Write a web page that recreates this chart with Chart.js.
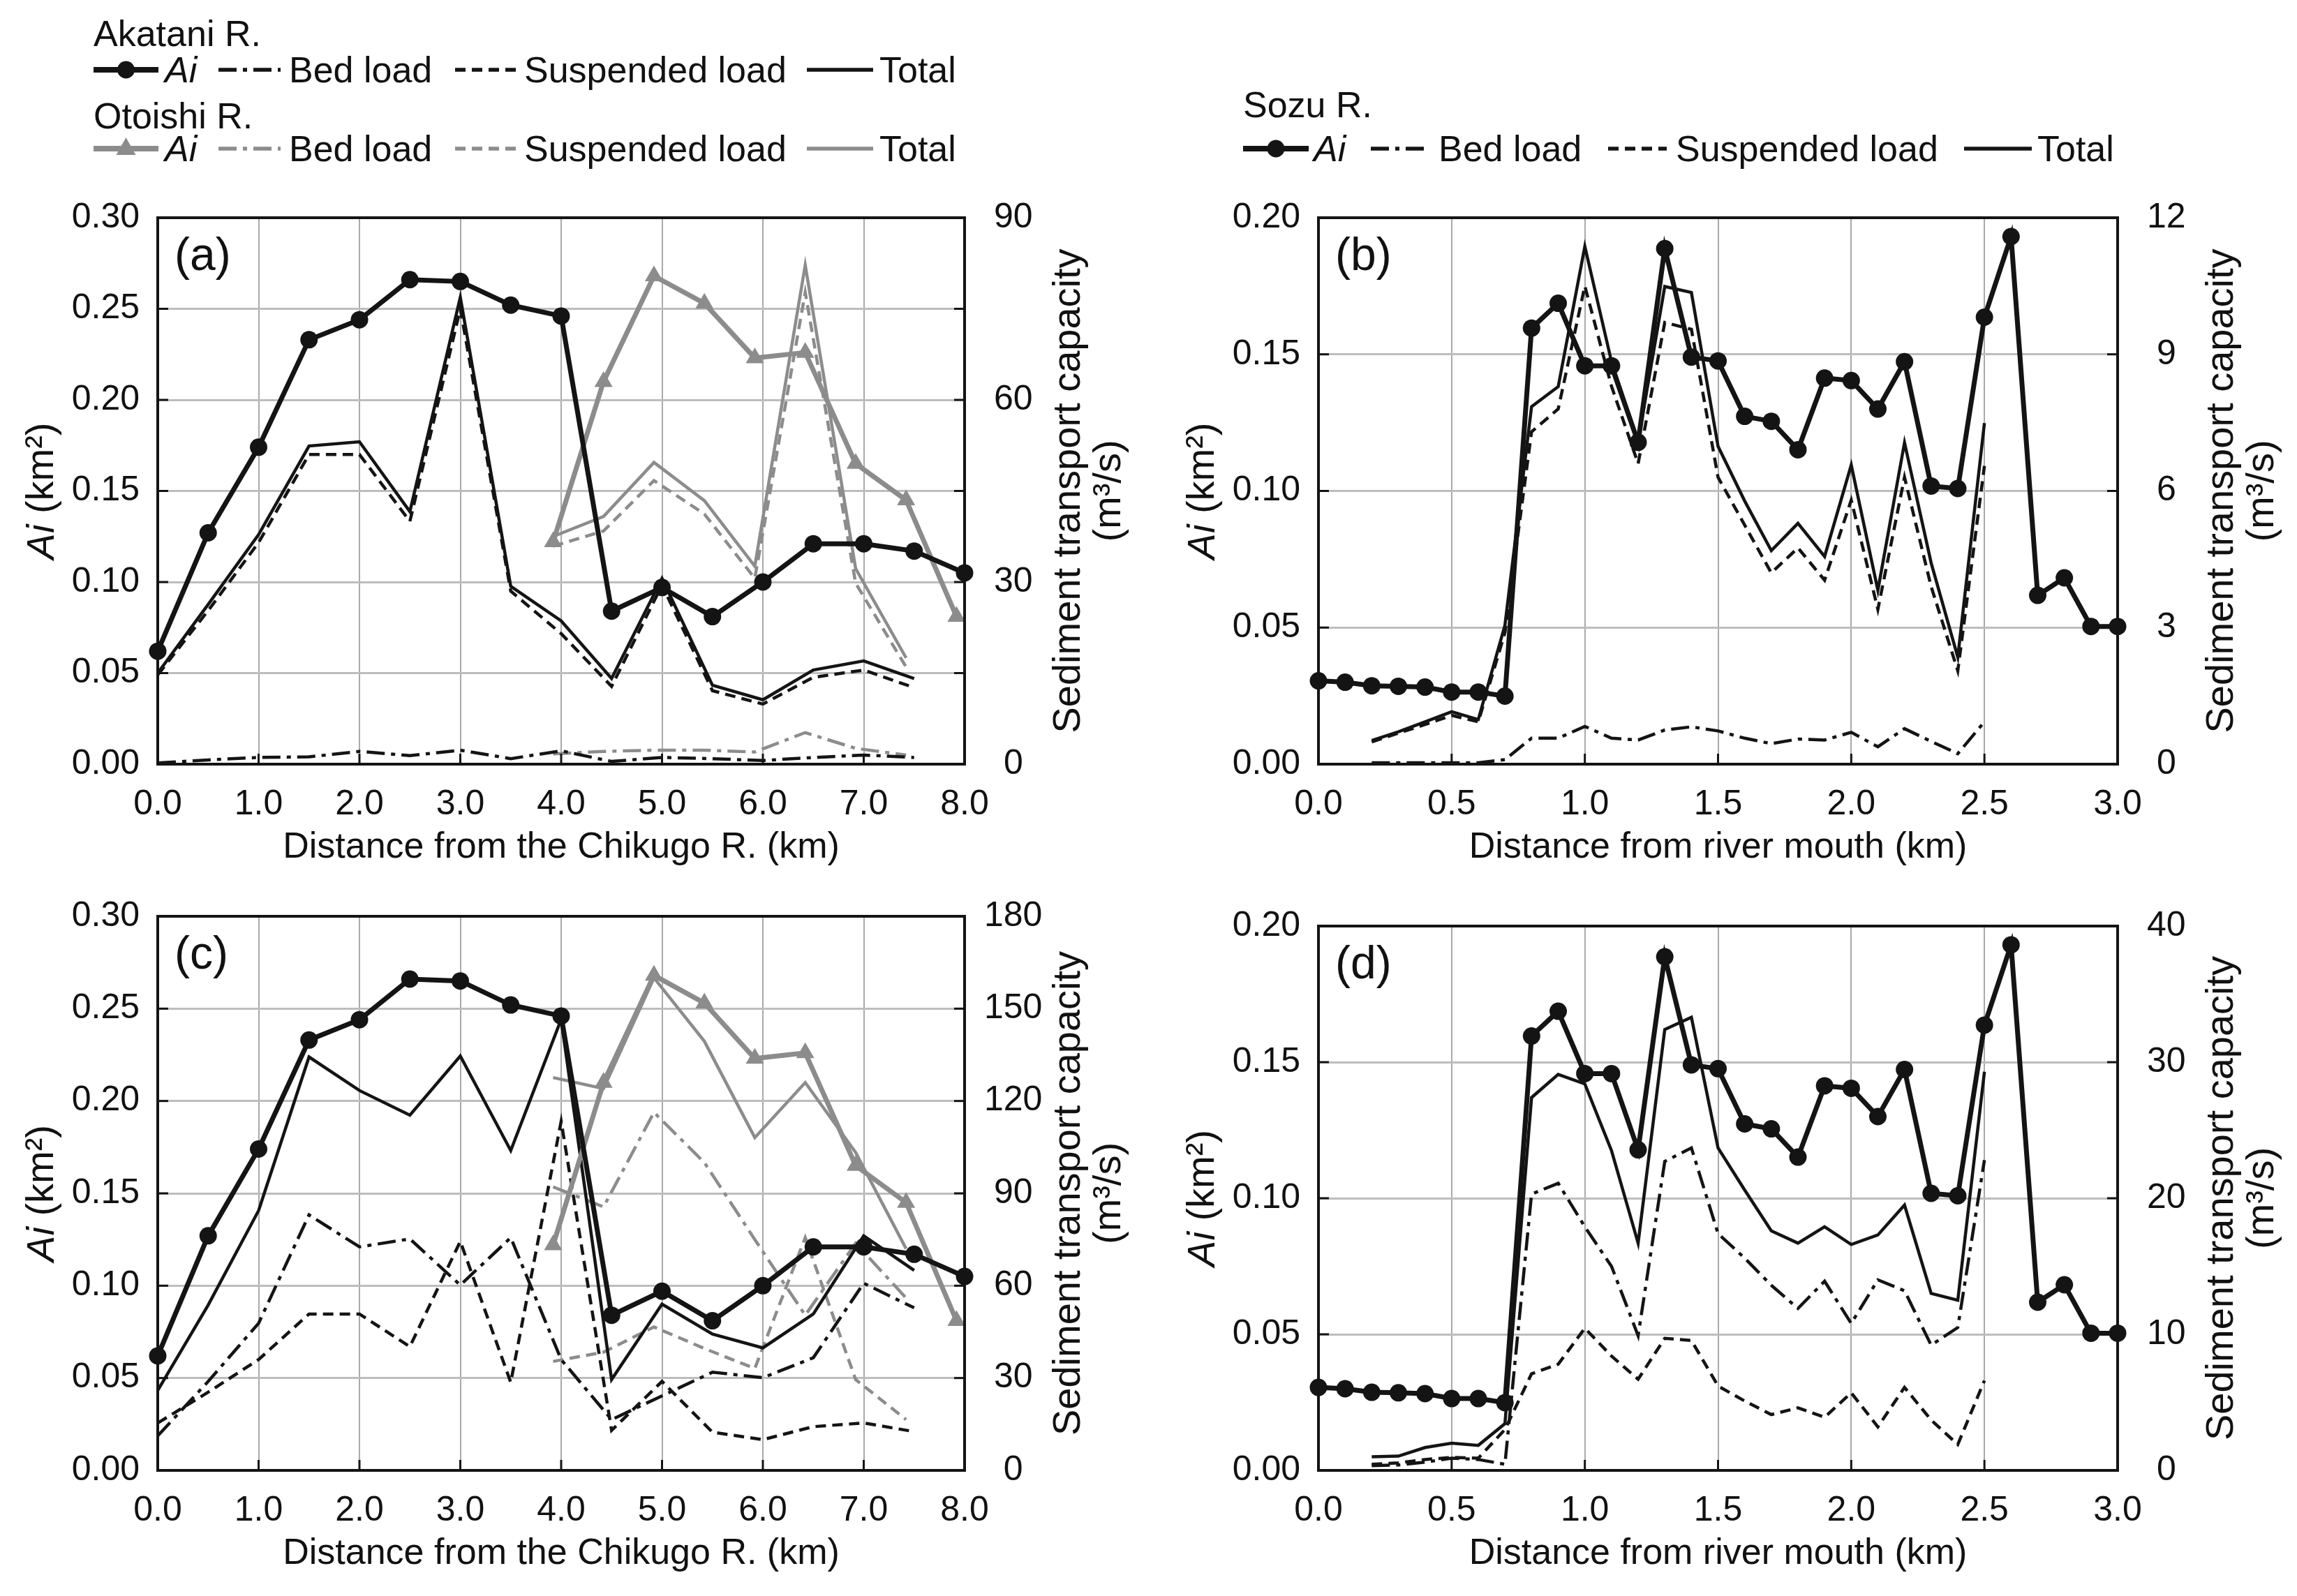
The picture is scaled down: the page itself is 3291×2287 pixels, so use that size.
<!DOCTYPE html>
<html>
<head>
<meta charset="utf-8">
<script src="https://cdn.jsdelivr.net/npm/chart.js@4.4.1/dist/chart.umd.min.js"></script>
<style>
  html, body { margin: 0; padding: 0; background: #fff; }
  #page { position: relative; width: 3291px; height: 2287px; overflow: hidden;
          font-family: 'Liberation Sans', Arial, sans-serif; color: #111; }
  .panel { position: absolute; }
  .lg { position: absolute; font-size: 52px; line-height: 60px; height: 60px; white-space: nowrap; }
  .lg i { font-style: italic; }
  svg.sw { position: absolute; overflow: visible; }
</style>
</head>
<body>
<div id="page">
  <div class="panel" style="left:0px;top:240px;"><canvas id="chart-a" width="1700" height="1020"></canvas></div>
  <div class="panel" style="left:1640px;top:240px;"><canvas id="chart-b" width="1651" height="1020"></canvas></div>
  <div class="panel" style="left:0px;top:1255px;"><canvas id="chart-c" width="1700" height="1032"></canvas></div>
  <div class="panel" style="left:1640px;top:1255px;"><canvas id="chart-d" width="1651" height="1032"></canvas></div>
</div>
<script>
// ---- data ----
const akataniKm = [0.0, 0.5, 1.0, 1.5, 2.0, 2.5, 3.0, 3.5, 4.0, 4.5, 5.0, 5.5, 6.0, 6.5, 7.0, 7.5, 8.0];
const akataniAi = [0.062, 0.127, 0.174, 0.233, 0.244, 0.266, 0.265, 0.252, 0.246, 0.084, 0.097, 0.081, 0.100, 0.121, 0.121, 0.117, 0.105];
const akataniLoadKm = [0.0, 0.5, 1.0, 1.5, 2.0, 2.5, 3.0, 3.5, 4.0, 4.5, 5.0, 5.5, 6.0, 6.5, 7.0, 7.5];

const otoishiKm = [3.92, 4.42, 4.92, 5.42, 5.92, 6.42, 6.92, 7.42, 7.92];
const otoishiAi = [0.122, 0.210, 0.268, 0.253, 0.223, 0.226, 0.165, 0.145, 0.081];
const otoishiLoadKm = [3.92, 4.42, 4.92, 5.42, 5.92, 6.42, 6.92, 7.42];

// panel (a), m3/s
const akataniBedA   = [0.2, 0.7, 1.1, 1.2, 2.1, 1.4, 2.3, 0.9, 2.2, 0.45, 1.1, 0.9, 0.6, 1.1, 1.5, 1.1];
const akataniSuspA  = [14.7, 25.3, 36.5, 51.0, 51.0, 40.0, 75.0, 28.5, 21.5, 12.8, 29.5, 12.1, 9.9, 14.3, 15.5, 12.6];
const akataniTotalA = [15.0, 26.3, 37.8, 52.4, 53.1, 41.6, 76.9, 29.3, 23.6, 14.1, 30.6, 13.0, 10.6, 15.5, 17.0, 14.1];
const otoishiBedA   = [1.7, 2.1, 2.3, 2.3, 2.0, 5.2, 2.6, 1.5];
const otoishiSuspA  = [35.9, 38.4, 46.7, 41.2, 30.6, 77.7, 29.8, 16.0];
const otoishiTotalA = [37.5, 40.8, 49.7, 43.4, 32.6, 82.2, 32.2, 17.5];

// panel (c), m3/s
const akataniBedC   = [11.2, 28.9, 47.8, 83.0, 72.6, 75.2, 60.2, 75.6, 36.0, 16.5, 24.2, 31.9, 30.1, 36.6, 60.8, 52.8];
const akataniSuspC  = [15.4, 25.4, 36.0, 50.8, 50.8, 40.2, 74.4, 28.6, 113.4, 13.0, 28.9, 12.4, 10.0, 14.2, 15.4, 12.6];
const akataniTotalC = [26.0, 53.7, 84.4, 134.3, 123.4, 115.4, 134.6, 103.9, 146.5, 29.5, 54.0, 44.3, 39.8, 50.8, 76.2, 65.0];
const otoishiBedC   = [92.1, 85.6, 116.3, 100.0, 75.0, 50.4, 73.8, 56.0];
const otoishiSuspC  = [35.4, 38.4, 46.6, 39.6, 33.1, 75.6, 29.5, 16.5];
const otoishiTotalC = [127.6, 124.0, 160.0, 139.4, 108.1, 126.0, 103.3, 72.0];

const sozuKm = [0.0, 0.1, 0.2, 0.3, 0.4, 0.5, 0.6, 0.7, 0.8, 0.9, 1.0, 1.1, 1.2, 1.3, 1.4, 1.5,
                1.6, 1.7, 1.8, 1.9, 2.0, 2.1, 2.2, 2.3, 2.4, 2.5, 2.6, 2.7, 2.8, 2.9, 3.0];
const sozuAi = [0.0305, 0.0300, 0.0287, 0.0285, 0.0282, 0.0264, 0.0264, 0.0249, 0.1596, 0.1687, 0.1458,
                0.1458, 0.1178, 0.1887, 0.1490, 0.1476, 0.1273, 0.1255, 0.1151, 0.1413, 0.1404, 0.1300,
                0.1473, 0.1018, 0.1009, 0.1636, 0.1931, 0.0618, 0.0682, 0.0504, 0.0504];
const sozuLoadKm = [0.2, 0.3, 0.4, 0.5, 0.6, 0.7, 0.8, 0.9, 1.0, 1.1, 1.2, 1.3, 1.4, 1.5,
                    1.6, 1.7, 1.8, 1.9, 2.0, 2.1, 2.2, 2.3, 2.4, 2.5];

// panel (b), m3/s
const sozuBedB   = [0.03, 0.03, 0.03, 0.03, 0.03, 0.10, 0.57, 0.57, 0.83, 0.57, 0.53, 0.75, 0.82, 0.73,
                    0.57, 0.45, 0.55, 0.53, 0.70, 0.38, 0.78, 0.50, 0.23, 0.93];
const sozuSuspB  = [0.49, 0.68, 0.87, 1.07, 0.93, 2.89, 7.30, 7.80, 10.50, 8.30, 6.60, 9.70, 9.55, 6.30,
                    5.25, 4.20, 4.75, 4.04, 5.80, 3.40, 6.30, 3.90, 2.05, 6.55];
const sozuTotalB = [0.52, 0.71, 0.93, 1.15, 0.98, 3.05, 7.85, 8.29, 11.37, 8.84, 7.09, 10.49, 10.36, 6.98,
                    5.78, 4.69, 5.29, 4.56, 6.57, 3.82, 7.06, 4.42, 2.35, 7.49];

// panel (d), m3/s
const sozuBedD   = [0.35, 0.40, 0.60, 0.90, 0.80, 0.45, 20.3, 21.1, 17.9, 15.0, 9.9, 22.7, 23.7, 17.4,
                    15.6, 13.6, 11.9, 13.9, 10.8, 14.0, 13.2, 9.2, 10.5, 22.8];
const sozuSuspD  = [0.45, 0.55, 0.80, 0.95, 0.90, 3.0, 7.1, 7.8, 10.45, 8.4, 6.7, 9.7, 9.55, 6.2,
                    5.1, 4.1, 4.6, 3.9, 5.7, 3.2, 6.1, 3.7, 1.9, 6.6];
const sozuTotalD = [1.0, 1.05, 1.68, 2.0, 1.84, 3.43, 27.4, 29.1, 28.4, 23.5, 16.7, 32.4, 33.3, 23.7,
                    20.6, 17.6, 16.7, 17.9, 16.6, 17.3, 19.5, 13.0, 12.5, 29.3];

// ---- styles ----
const FONT = "'Liberation Sans', Arial, sans-serif";
const BLACK = '#141414';
const GRAY = '#8c8c8c';
const DASH = [15, 9];
const DASHDOT = [26, 9, 6, 9];

const styles = {
  aiBlack:  { borderColor: BLACK, backgroundColor: BLACK, borderWidth: 7, pointRadius: 12.5, pointStyle: 'circle' },
  aiGray:   { borderColor: GRAY, backgroundColor: GRAY, borderWidth: 7, pointRadius: 15, pointStyle: 'triangle' },
  totBlack: { borderColor: BLACK, borderWidth: 4.5, pointRadius: 0 },
  susBlack: { borderColor: BLACK, borderWidth: 4.5, pointRadius: 0, borderDash: DASH },
  bedBlack: { borderColor: BLACK, borderWidth: 4.5, pointRadius: 0, borderDash: DASHDOT },
  totGray:  { borderColor: GRAY, borderWidth: 4.5, pointRadius: 0 },
  susGray:  { borderColor: GRAY, borderWidth: 4.5, pointRadius: 0, borderDash: DASH },
  bedGray:  { borderColor: GRAY, borderWidth: 4.5, pointRadius: 0, borderDash: DASHDOT }
};

function series(xs, ys, axis, style) {
  return {
    data: xs.map((x, i) => ({ x: x, y: ys[i] })),
    yAxisID: axis,
    fill: false,
    tension: 0,
    clip: false,
    pointBorderWidth: 0,
    pointHoverRadius: 0,
    ...style
  };
}

// Frame, inward ticks, panel letter and axis titles
const decorPlugin = {
  id: 'decor',
  afterDraw(chart, args, opts) {
    const { ctx, chartArea: a, scales } = chart;
    const seg = (x1, y1, x2, y2) => { ctx.beginPath(); ctx.moveTo(x1, y1); ctx.lineTo(x2, y2); ctx.stroke(); };
    ctx.save();
    ctx.strokeStyle = BLACK;
    ctx.lineWidth = 3;
    scales.y.ticks.forEach(t => {
      const py = scales.y.getPixelForValue(t.value);
      seg(a.left, py, a.left + 15, py);
      seg(a.right - 15, py, a.right, py);
    });
    scales.x.ticks.forEach(t => {
      const px = scales.x.getPixelForValue(t.value);
      seg(px, a.bottom, px, a.bottom - 15);
    });
    ctx.lineWidth = 4;
    ctx.strokeRect(a.left, a.top, a.right - a.left, a.bottom - a.top);

    ctx.fillStyle = '#111';
    ctx.textBaseline = 'middle';
    ctx.textAlign = 'left';
    ctx.font = `66px ${FONT}`;
    ctx.fillText(opts.letter, a.left + 24, a.top + 57);

    ctx.textAlign = 'center';
    ctx.font = `52px ${FONT}`;
    ctx.fillText(opts.xTitle, (a.left + a.right) / 2, a.bottom + 120);

    const cy = (a.top + a.bottom) / 2;
    // left title: italic "Ai" + " (km²)"
    ctx.save();
    ctx.translate(a.left - 165, cy);
    ctx.rotate(-Math.PI / 2);
    ctx.textAlign = 'left';
    ctx.font = `italic 56px ${FONT}`;
    const w1 = ctx.measureText('Ai').width;
    ctx.font = `56px ${FONT}`;
    const w2 = ctx.measureText(' (km²)').width;
    ctx.font = `italic 56px ${FONT}`;
    ctx.fillText('Ai', -(w1 + w2) / 2, 0);
    ctx.font = `56px ${FONT}`;
    ctx.fillText(' (km²)', -(w1 + w2) / 2 + w1, 0);
    ctx.restore();

    // right title, two lines reading bottom-to-top
    ctx.font = `56px ${FONT}`;
    ctx.textAlign = 'center';
    [['Sediment transport capacity', 150], ['(m³/s)', 208]].forEach(([txt, dx]) => {
      ctx.save();
      ctx.translate(a.right + dx, cy);
      ctx.rotate(-Math.PI / 2);
      ctx.fillText(txt, 0, 0);
      ctx.restore();
    });
    ctx.restore();
  }
};

function makePanel(id, box, area, cfg) {
  const leftW = area.left - box.left;
  const rightW = 160;
  const bottomH = 120;
  const padTop = area.top - box.top;
  const padRight = box.w - (area.right - box.left) - rightW;
  const padBottom = box.h - (area.bottom - box.top) - bottomH;
  const tickFont = { family: FONT, size: 50 };

  new Chart(document.getElementById(id), {
    type: 'line',
    data: { datasets: cfg.datasets },
    plugins: [decorPlugin],
    options: {
      responsive: false,
      animation: false,
      events: [],
      layout: { padding: { top: padTop, left: 0, right: padRight, bottom: padBottom } },
      plugins: {
        legend: { display: false },
        tooltip: { enabled: false },
        decor: { letter: cfg.letter, xTitle: cfg.xTitle }
      },
      scales: {
        x: {
          type: 'linear',
          min: 0, max: cfg.xMax,
          grid: { color: '#a9a9a9', lineWidth: 2, drawTicks: false },
          border: { display: false },
          ticks: { stepSize: cfg.xStep, autoSkip: false, maxRotation: 0, padding: 28,
                   color: '#111', font: tickFont, callback: v => v.toFixed(1) },
          afterFit: s => { s.height = bottomH; }
        },
        y: {
          position: 'left',
          min: 0, max: cfg.yMax,
          grid: { color: '#bdbdbd', lineWidth: 3, drawTicks: false },
          border: { display: false },
          ticks: { stepSize: 0.05, autoSkip: false, padding: 26,
                   color: '#111', font: tickFont, callback: v => v.toFixed(2) },
          afterFit: s => { s.width = leftW; }
        },
        y2: {
          position: 'right',
          min: 0, max: cfg.y2Max,
          grid: { display: false, drawTicks: false },
          border: { display: false },
          ticks: { stepSize: cfg.y2Step, autoSkip: false, crossAlign: 'center', padding: cfg.y2Pad,
                   color: '#111', font: tickFont },
          afterFit: s => { s.width = rightW; }
        }
      }
    }
  });
}

const chikugoTitle = 'Distance from the Chikugo R. (km)';
const mouthTitle = 'Distance from river mouth (km)';

makePanel('chart-a', { left: 0, top: 240, w: 1700, h: 1020 }, { left: 226, top: 285, right: 1382, bottom: 1095 }, {
  letter: '(a)', xTitle: chikugoTitle, xMax: 8, xStep: 1, yMax: 0.30, y2Max: 90, y2Step: 30, y2Pad: 42,
  datasets: [
    series(akataniKm, akataniAi, 'y', styles.aiBlack),
    series(otoishiKm, otoishiAi, 'y', styles.aiGray),
    series(akataniLoadKm, akataniTotalA, 'y2', styles.totBlack),
    series(akataniLoadKm, akataniSuspA, 'y2', styles.susBlack),
    series(akataniLoadKm, akataniBedA, 'y2', styles.bedBlack),
    series(otoishiLoadKm, otoishiTotalA, 'y2', styles.totGray),
    series(otoishiLoadKm, otoishiSuspA, 'y2', styles.susGray),
    series(otoishiLoadKm, otoishiBedA, 'y2', styles.bedGray)
  ]
});

makePanel('chart-b', { left: 1640, top: 240, w: 1651, h: 1020 }, { left: 1889, top: 285, right: 3034, bottom: 1095 }, {
  letter: '(b)', xTitle: mouthTitle, xMax: 3, xStep: 0.5, yMax: 0.20, y2Max: 12, y2Step: 3, y2Pad: 42,
  datasets: [
    series(sozuKm, sozuAi, 'y', styles.aiBlack),
    series(sozuLoadKm, sozuTotalB, 'y2', styles.totBlack),
    series(sozuLoadKm, sozuSuspB, 'y2', styles.susBlack),
    series(sozuLoadKm, sozuBedB, 'y2', styles.bedBlack)
  ]
});

makePanel('chart-c', { left: 0, top: 1255, w: 1700, h: 1032 }, { left: 226, top: 1300, right: 1382, bottom: 2107 }, {
  letter: '(c)', xTitle: chikugoTitle, xMax: 8, xStep: 1, yMax: 0.30, y2Max: 180, y2Step: 30, y2Pad: 28,
  datasets: [
    series(akataniKm, akataniAi, 'y', styles.aiBlack),
    series(otoishiKm, otoishiAi, 'y', styles.aiGray),
    series(akataniLoadKm, akataniTotalC, 'y2', styles.totBlack),
    series(akataniLoadKm, akataniSuspC, 'y2', styles.susBlack),
    series(akataniLoadKm, akataniBedC, 'y2', styles.bedBlack),
    series(otoishiLoadKm, otoishiTotalC, 'y2', styles.totGray),
    series(otoishiLoadKm, otoishiSuspC, 'y2', styles.susGray),
    series(otoishiLoadKm, otoishiBedC, 'y2', styles.bedGray)
  ]
});

makePanel('chart-d', { left: 1640, top: 1255, w: 1651, h: 1032 }, { left: 1889, top: 1300, right: 3034, bottom: 2107 }, {
  letter: '(d)', xTitle: mouthTitle, xMax: 3, xStep: 0.5, yMax: 0.20, y2Max: 40, y2Step: 10, y2Pad: 42,
  datasets: [
    series(sozuKm, sozuAi, 'y', styles.aiBlack),
    series(sozuLoadKm, sozuTotalD, 'y2', styles.totBlack),
    series(sozuLoadKm, sozuSuspD, 'y2', styles.susBlack),
    series(sozuLoadKm, sozuBedD, 'y2', styles.bedBlack)
  ]
});

// ---- legends (HTML text + svg line samples) ----
const page = document.getElementById('page');
const NS = 'http://www.w3.org/2000/svg';

function addText(x, cy, html) {
  const d = document.createElement('div');
  d.className = 'lg';
  d.style.left = x + 'px';
  d.style.top = (cy - 30) + 'px';
  d.innerHTML = html;
  page.appendChild(d);
}

function addSample(x1, x2, cy, st) {
  const w = x2 - x1;
  const svg = document.createElementNS(NS, 'svg');
  svg.setAttribute('class', 'sw');
  svg.setAttribute('width', w);
  svg.setAttribute('height', 40);
  svg.style.left = x1 + 'px';
  svg.style.top = (cy - 20) + 'px';
  const ln = document.createElementNS(NS, 'line');
  ln.setAttribute('x1', 0); ln.setAttribute('x2', w);
  ln.setAttribute('y1', 20); ln.setAttribute('y2', 20);
  ln.setAttribute('stroke', st.borderColor);
  ln.setAttribute('stroke-width', st.borderWidth + 1);
  if (st.borderDash) ln.setAttribute('stroke-dasharray', st.borderDash.join(' '));
  svg.appendChild(ln);
  if (st.pointStyle === 'circle') {
    const c = document.createElementNS(NS, 'circle');
    c.setAttribute('cx', w / 2); c.setAttribute('cy', 20); c.setAttribute('r', 12.5);
    c.setAttribute('fill', st.borderColor);
    svg.appendChild(c);
  } else if (st.pointStyle === 'triangle') {
    const p = document.createElementNS(NS, 'polygon');
    const cx = w / 2;
    p.setAttribute('points', `${cx},4 ${cx - 14},29 ${cx + 14},29`);
    p.setAttribute('fill', st.borderColor);
    svg.appendChild(p);
  }
  page.appendChild(svg);
}

function legendRow(cy, items) {
  items.forEach(it => {
    addSample(it.x1, it.x2, cy, it.style);
    addText(it.tx, cy, it.label);
  });
}

const akXs = [[134, 227, 236], [313, 402, 414], [652, 740, 751], [1156, 1251, 1260]];
const soXs = [[1781, 1875, 1882], [1964, 2046, 2061], [2304, 2388, 2401], [2814, 2911, 2919]];
const itemLabels = ['<i>Ai</i>', 'Bed load', 'Suspended load', 'Total'];

addText(134, 48, 'Akatani R.');
legendRow(100, [styles.aiBlack, styles.bedBlack, styles.susBlack, styles.totBlack].map((s, i) =>
  ({ x1: akXs[i][0], x2: akXs[i][1], tx: akXs[i][2], label: itemLabels[i], style: s })));
addText(134, 166, 'Otoishi R.');
legendRow(213, [styles.aiGray, styles.bedGray, styles.susGray, styles.totGray].map((s, i) =>
  ({ x1: akXs[i][0], x2: akXs[i][1], tx: akXs[i][2], label: itemLabels[i], style: s })));
addText(1781, 150, 'Sozu R.');
legendRow(213, [styles.aiBlack, styles.bedBlack, styles.susBlack, styles.totBlack].map((s, i) =>
  ({ x1: soXs[i][0], x2: soXs[i][1], tx: soXs[i][2], label: itemLabels[i], style: s })));
</script>
</body>
</html>
